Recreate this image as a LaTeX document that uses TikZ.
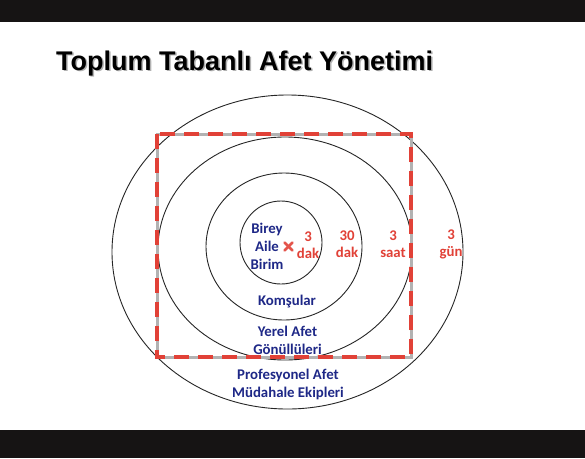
\documentclass[tikz,border=0pt]{standalone}
\usepackage{fontspec}
\setmainfont{Liberation Sans}
\newfontfamily\calfont{Carlito}
\usepackage{xcolor}
\definecolor{ringblue}{RGB}{30,40,135}
\definecolor{ringred}{RGB}{225,65,55}
\definecolor{framegray}{RGB}{178,178,178}
\definecolor{barblack}{RGB}{22,20,20}

\begin{document}
\begin{tikzpicture}[
  x=1pt, y=-1pt,
  ring/.style={draw=black!85, line width=0.9pt},
  who/.style={text=ringblue, font=\calfont\bfseries\fontsize{14.8}{18}\selectfont, align=center, inner sep=0pt},
  when/.style={text=ringred, font=\calfont\bfseries\fontsize{14.8}{17}\selectfont, align=center, inner sep=0pt},
  headline/.style={anchor=base west, font=\bfseries\fontsize{27}{32}\selectfont, inner sep=0pt},
]
\useasboundingbox [fill=white] (0,0) rectangle (585,458);

% slide bars
\fill [barblack] (0,0) rectangle (585,22);
\fill [barblack] (0,430) rectangle (585,458);

% title with shadow
\node (titleshadow) [headline, text=black!30] at (57.5,71.5) {Toplum Tabanlı Afet Yönetimi};
\node (title) [headline] at (56,70) {Toplum Tabanlı Afet Yönetimi};

% rings
\draw [ring] (287.5,252) ellipse [x radius=175.5, y radius=157];
\draw [ring] (285,248.5) ellipse [x radius=127, y radius=111.5];
\draw [ring] (284,246.5) ellipse [x radius=78, y radius=73.5];
\draw [ring] (281,242.5) ellipse [x radius=41, y radius=41.5];

% dashed frame
\draw [framegray, line width=3pt] (157,134) rectangle (411,357);
\draw [ringred, line width=4pt, dash pattern=on 15pt off 9pt] (157,134) rectangle (411,357);

% centre mark
\draw [ringred!90, line width=2.8pt, line cap=round] (284.5,242.5) -- (292.5,250.5);
\draw [ringred!90, line width=2.8pt, line cap=round] (292.5,242.5) -- (284.5,250.5);

% who
\node (self) [who] at (267,246) {Birey\\Aile\\Birim};
\node (neighbours) [who] at (287,302) {Komşular};
\node (volunteers) [who] at (287.5,340.5) {Yerel Afet\\Gönüllüleri};
\node (teams) [who] at (288,384) {Profesyonel Afet\\Müdahale Ekipleri};

% when
\node (t3min) [when] at (308,245.5) {3\\dak};
\node (t30min) [when] at (347,244) {30\\dak};
\node (t3hour) [when] at (393,244) {3\\saat};
\node (t3day) [when] at (451,244) {3\\gün};
\end{tikzpicture}
\end{document}
